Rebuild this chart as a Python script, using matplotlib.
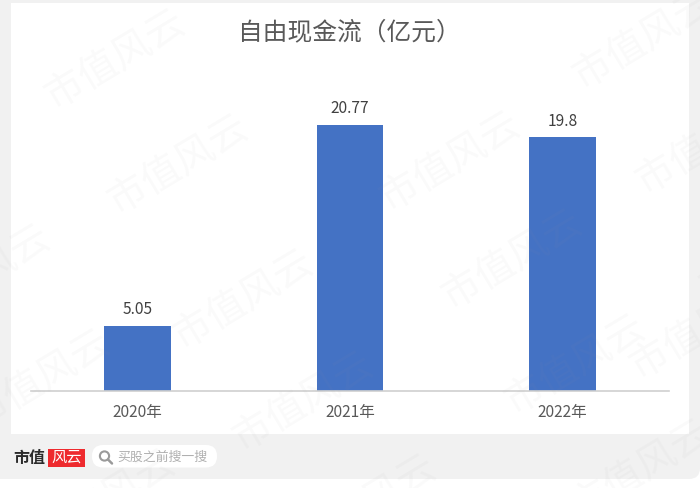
import matplotlib
matplotlib.use("Agg")
import matplotlib.pyplot as plt
from matplotlib.patches import FancyBboxPatch, Rectangle

plt.rcParams['font.family'] = ['Noto Sans CJK SC', 'DejaVu Sans']

categories = ['2020年', '2021年', '2022年']
values = [5.05, 20.77, 19.8]
value_labels = ['5.05', '20.77', '19.8']
title = '自由现金流（亿元）'
watermark = '市值风云'
footer_brand = '市值'
footer_logo = '风云'
footer_search = '买股之前搜一搜'
watermark_centers = [(115, 60), (178, 165), (243, 300), (303, 402), (366, 505),
                     (450, 162), (512, 260), (575, 365), (640, 470),
                     (643, 40), (706, 145), (40, 380), (-20, 275),
                     (105, 500), (770, 250), (700, 330)]

W, H = 700, 488
fig = plt.figure(figsize=(W / 100, H / 100), dpi=100, facecolor='white')
bg = fig.add_axes([0, 0, 1, 1], zorder=0)
bg.set_xlim(0, W)
bg.set_ylim(H, 0)
bg.axis('off')
bg.add_patch(FancyBboxPatch((-20, -20), W + 20, 499, boxstyle='round,pad=0,rounding_size=11',
                            fc='#f1f1f1', ec='none'))
bg.add_patch(Rectangle((11, 3), 678, 431, fc='white', ec='none'))

ax = fig.add_axes([31 / W, (H - 390.5) / H, 638 / W, 387.5 / H], zorder=1)
ax.patch.set_alpha(0)
x = list(range(len(categories)))
bars = ax.bar(x, values, width=0.312, color='#4472c4', zorder=2)
ax.set_xlim(-0.5, 2.5)
ax.set_ylim(0, 387.5 / 12.78)
ax.set_yticks([])
ax.set_xticks(x, categories, fontsize=11.2, color='#595959')
ax.tick_params(axis='x', length=0, pad=9.5)
for s in ['top', 'left', 'right']:
    ax.spines[s].set_visible(False)
ax.spines['bottom'].set_color('#d0d0d0')
ax.spines['bottom'].set_linewidth(1.2)
for b, lab in zip(bars, value_labels):
    ax.annotate(lab, (b.get_x() + b.get_width() / 2, b.get_height()), xytext=(0, 5.5),
                textcoords='offset points', ha='center', va='bottom', fontsize=11.2, color='#404040')

fig.text(349.5 / W, 1 - 32.5 / H, title, ha='center', va='center', fontsize=17.8, color='#595959')

# footer
fig.text(13.5 / W, 1 - 457.5 / H, footer_brand, ha='left', va='center', fontsize=11.5,
         fontweight='bold', color='#2b2b2b')
bg.add_patch(Rectangle((48, 448.5), 37, 18.5, fc='#ee2a2e', ec='none'))
fig.text(66.5 / W, 1 - 457.5 / H, footer_logo, ha='center', va='center', fontsize=11,
         color='white', style='italic')
bg.add_patch(FancyBboxPatch((92, 445), 125, 22.5, boxstyle='round,pad=0,rounding_size=11',
                            fc='white', ec='none'))
bg.add_patch(plt.Circle((104.5, 456), 4.6, fc='none', ec='#9a9a9a', lw=1.5))
bg.plot([108, 112], [459.5, 463.5], color='#9a9a9a', lw=1.8, solid_capstyle='round')
fig.text(117.5 / W, 1 - 457 / H, footer_search, ha='left', va='center', fontsize=9.3, color='#b0b0b0')

# watermarks on top of everything
for cx, cy in watermark_centers:
    fig.text(cx / W, 1 - cy / H, watermark, ha='center', va='center', rotation=31,
             rotation_mode='anchor', fontsize=28, color='#9a9a9a', alpha=0.05,
             zorder=5)

fig.savefig('out.png', dpi=100, facecolor='white')
